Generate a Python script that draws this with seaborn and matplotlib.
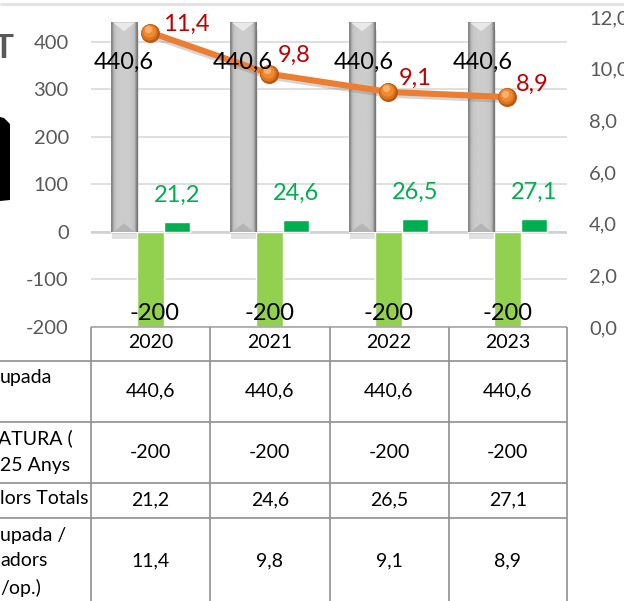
import numpy as np
import pandas as pd
import matplotlib
matplotlib.use("Agg")
import matplotlib.pyplot as plt
import matplotlib.patheffects as pe
from matplotlib.patches import Polygon
from matplotlib.transforms import offset_copy
import seaborn as sns

years = ["2020", "2021", "2022", "2023"]
ocupada = [440.6, 440.6, 440.6, 440.6]
atur = [-200, -200, -200, -200]
totals = [21.2, 24.6, 26.5, 27.1]
ratio = [11.4, 9.8, 9.1, 8.9]
left_ticks = [-200, -100, 0, 100, 200, 300, 400]
right_ticks = [0, 2, 4, 6, 8, 10, 12]

# label nudges in pixels
ocupada_dx = [-27, -27, -25, -25]
atur_dx = [4, 0, 0, 0]
ratio_off = [(36, 8), (25, 18), (27, 14), (25, 13)]

sns.set_theme(style="white")
plt.rcParams["font.family"] = ["Lato", "DejaVu Sans"]
plt.rcParams["axes.unicode_minus"] = False

W, H = 624, 601
GREY = "#595959"
LINE = "#8F8F8F"


def comma(v, nd=1):
    return f"{v:.{nd}f}".replace(".", ",")


fig = plt.figure(figsize=(W / 100, H / 100), dpi=100)
ax = fig.add_axes([91 / W, 1 - 327 / H, 476 / W, 310 / H])

df = pd.DataFrame({
    "year": years * 3,
    "serie": ["ocupada"] * 4 + ["atur"] * 4 + ["totals"] * 4,
    "valor": ocupada + atur + totals,
})
sns.barplot(data=df, x="year", y="valor", hue="serie", ax=ax, width=0.668, gap=0,
            palette=["#C4C4C4", "#92D050", "#00B050"], saturation=1, legend=False,
            zorder=3)
ax.set_xlim(-0.5, 3.5)
ax.set_ylim(-200, 452.6)
ax.set_yticks(left_ticks)
ax.set_xlabel("")
ax.set_ylabel("")
ax.set_xticks([])
ax.grid(axis="y", color="#D9D9D9", lw=1.2)
ax.set_axisbelow(True)
sns.despine(ax=ax, left=True, bottom=True)
ax.tick_params(axis="y", length=0, pad=16, labelsize=14.5, labelcolor=GREY)
ax.axhline(0, color="#D0D0D0", lw=1.8, zorder=2)

# grey columns: shadow, side gradient and bevelled ends
grad = np.array([[0.52, 0.72, 0.78, 0.79, 0.80, 0.80, 0.80, 0.80, 0.80, 0.79, 0.78, 0.72, 0.48]])
for bar in ax.containers[0]:
    x0, w, h = bar.get_x(), bar.get_width(), bar.get_height()
    bar.set_path_effects([pe.SimplePatchShadow(offset=(1, -5), shadow_rgbFace="#777777", alpha=0.22),
                          pe.Normal()])
    ax.imshow(grad, extent=(x0, x0 + w, 0, h), cmap="gray", vmin=0, vmax=1, aspect="auto",
              zorder=3.2, interpolation="bilinear")
    bev = w / 2 * 0.72
    bev_y = bev * 119 / 0.475 * 0.9
    ax.add_patch(Polygon([(x0 + 0.02, h), (x0 + w - 0.02, h), (x0 + w / 2, h - bev_y)],
                         fc="#E9E9E9", ec="none", zorder=3.3))
    ax.add_patch(Polygon([(x0 + 0.02, 0), (x0 + w - 0.02, 0), (x0 + w / 2, bev_y)],
                         fc="#B4B4B4", ec="none", zorder=3.3))
ax.set_xlim(-0.5, 3.5)
ax.set_ylim(-200, 452.6)

ax2 = ax.twinx()
ax2.set_ylim(0, 12)
ax2.set_yticks(right_ticks)
ax2.set_yticklabels([comma(t) for t in right_ticks])
ax2.tick_params(axis="y", length=0, pad=16, labelsize=14.5, labelcolor=GREY)
ax2.grid(False)
sns.despine(ax=ax2, left=True, bottom=True, right=True)
sns.lineplot(x=list(range(4)), y=ratio, ax=ax2, color="#ED7D31", lw=4.4, sort=False, errorbar=None,
             path_effects=[pe.SimpleLineShadow(offset=(0, -2), shadow_color="#777777", alpha=0.3),
                           pe.Normal()])
ax2.set_xlim(-0.5, 3.5)
ax2.set_ylabel("")

# sphere markers, layered from dark rim to bright highlight
sphere = [(187, "#B85A12", 0, 0), (135, "#DE7420", -1, 1), (80, "#F08A30", -1.5, 2), (28, "#F8B070", -2, 3.5)]
for s, col, ox, oy in sphere:
    tr = offset_copy(ax2.transData, fig=fig, x=ox, y=oy, units="dots")
    ax2.scatter(range(4), ratio, s=s, color=col, transform=tr, zorder=5, linewidths=0)

# value labels
for i in range(4):
    ax2.annotate(comma(ocupada[i]), (i, ocupada[i]), xycoords=ax.transData, xytext=(ocupada_dx[i], -40),
                 textcoords="offset pixels", ha="center", va="center", fontsize=17, color="black", zorder=6)
    ax2.annotate(str(atur[i]), (i, atur[i]), xycoords=ax.transData, xytext=(atur_dx[i], 14),
                 textcoords="offset pixels", ha="center", va="center", fontsize=17, color="black", zorder=6)
    bar_t = ax.containers[2][i]
    ax2.annotate(comma(totals[i]), (bar_t.get_x() + bar_t.get_width() / 2, totals[i]), xycoords=ax.transData,
                 xytext=(0, 27), textcoords="offset pixels", ha="center", va="center", fontsize=17,
                 color="#00B050", zorder=6)
    ax2.annotate(comma(ratio[i]), (i, ratio[i]), xytext=ratio_off[i], textcoords="offset pixels",
                 ha="center", va="center", fontsize=17, color="#C00000", zorder=6)

# overlay in pixel coordinates for the data table and cut-off pieces at the edge
ov = fig.add_axes([0, 0, 1, 1], zorder=10)
ov.set_xlim(0, W)
ov.set_ylim(H, 0)
ov.axis("off")
ov.patch.set_alpha(0)

col_x = [91, 210, 329.5, 448.5, 567]
row_y = [327, 361, 422, 483, 518]
ov.hlines(row_y[0], col_x[0], col_x[-1], color="#A6A6A6", lw=1.2)
ov.hlines(row_y[1:], 0, col_x[-1], color=LINE, lw=1.2)
ov.vlines(col_x, row_y[0], H, color=LINE, lw=1.2)

mid_y = [343, 391, 452, 500, 561]
rows = [years, [comma(v) for v in ocupada], [str(v) for v in atur],
        [comma(v) for v in totals], [comma(v) for v in ratio]]
for yy, vals in zip(mid_y, rows):
    for i, txt in enumerate(vals):
        ov.text((col_x[i] + col_x[i + 1]) / 2, yy, txt, ha="center", va="center", fontsize=14, color="black")

left_txt = [("upada", 377), ("ATURA (", 438), ("25 Anys", 465), ("lors Totals", 499),
            ("upada /", 535), ("adors", 561), ("/op.)", 588)]
for txt, yy in left_txt:
    ov.text(-2 if txt == "ATURA (" else 0, yy, txt, ha="left", va="center", fontsize=14, color="black")

ov.text(-7, 49, "T", ha="left", va="center", fontsize=24, fontweight="bold", color=GREY)
ov.add_patch(Polygon([(0, 117), (4, 118), (10, 124), (10, 200), (0, 201)], fc="black", ec="none"))
ov.hlines(3.5, 0, W, color="#E3E3E3", lw=2.2)

fig.savefig("out.png", dpi=100)
